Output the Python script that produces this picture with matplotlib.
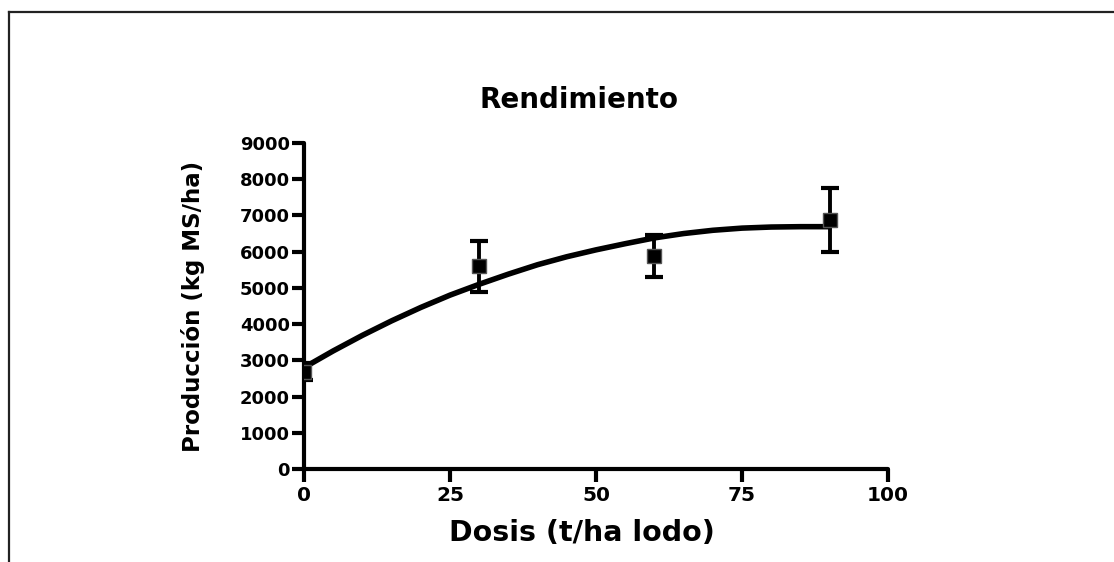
import matplotlib
matplotlib.use("Agg")
import matplotlib.pyplot as plt
from matplotlib.lines import Line2D

# measured points (mean +/- error)
dose = [0, 30, 60, 90]
yield_mean = [2690, 5600, 5890, 6880]
yield_err = [230, 700, 580, 880]

# fitted curve
curve_x = [0, 5, 10, 15, 20, 25, 30, 35, 40, 45, 50, 55, 60, 65, 70, 75, 80, 85, 90]
curve_y = [2800, 3260, 3690, 4090, 4460, 4800, 5100, 5380, 5640, 5860, 6050,
           6220, 6380, 6500, 6590, 6650, 6680, 6690, 6690]

x_ticks = [0, 25, 50, 75, 100]
y_ticks = [0, 1000, 2000, 3000, 4000, 5000, 6000, 7000, 8000, 9000]

plt.rcParams["font.family"] = ["DejaVu Sans"]
plt.rcParams["font.weight"] = "bold"

W, H = 1114, 562
fig = plt.figure(figsize=(W / 100, H / 100), dpi=100)
fig.patch.set_facecolor("white")

# outer frame (only top and left edges show)
fig.add_artist(Line2D([9 / W, 1], [1 - 12 / H, 1 - 12 / H], transform=fig.transFigure,
                      color="#222222", lw=1.6))
fig.add_artist(Line2D([9 / W, 9 / W], [0, 1 - 12 / H], transform=fig.transFigure,
                      color="#222222", lw=1.6))

ax = fig.add_axes([304 / W, (H - 469) / H, 584 / W, 326 / H])

ax.errorbar(dose, yield_mean, yerr=yield_err, fmt="none", ecolor="black",
            elinewidth=2.8, capsize=6.5, capthick=3, zorder=3)
ax.plot(curve_x, curve_y, color="black", lw=4, solid_capstyle="round", zorder=4)
ax.plot(dose, yield_mean, "s", color="black", mec="#555555", mew=1.0, ms=9.5, zorder=5)

ax.set_xlim(0, 100)
ax.set_ylim(0, 9000)
ax.set_xticks(x_ticks)
ax.set_yticks(y_ticks)
ax.set_xticklabels([str(v) for v in x_ticks], fontsize=14.5, fontweight="bold")
ax.set_yticklabels([str(v) for v in y_ticks], fontsize=13, fontweight="bold")
ax.tick_params(axis="both", direction="out", length=9, width=3, color="black")
ax.tick_params(axis="y", pad=1)
ax.tick_params(axis="x", pad=3)

for s in ["top", "right"]:
    ax.spines[s].set_visible(False)
for s in ["left", "bottom"]:
    ax.spines[s].set_linewidth(3)
    ax.spines[s].set_capstyle("round")
ax.patch.set_alpha(0)

ax.set_ylabel("Producción (kg MS/ha)", fontsize=16.5, fontweight="bold", labelpad=25)
fig.text(582 / W, 1 - 533 / H, "Dosis (t/ha lodo)", ha="center", va="center",
         fontsize=20.5, fontweight="bold")
fig.text(579 / W, 1 - 100 / H, "Rendimiento", ha="center", va="center",
         fontsize=20, fontweight="bold")

fig.savefig("out.png", dpi=100)
